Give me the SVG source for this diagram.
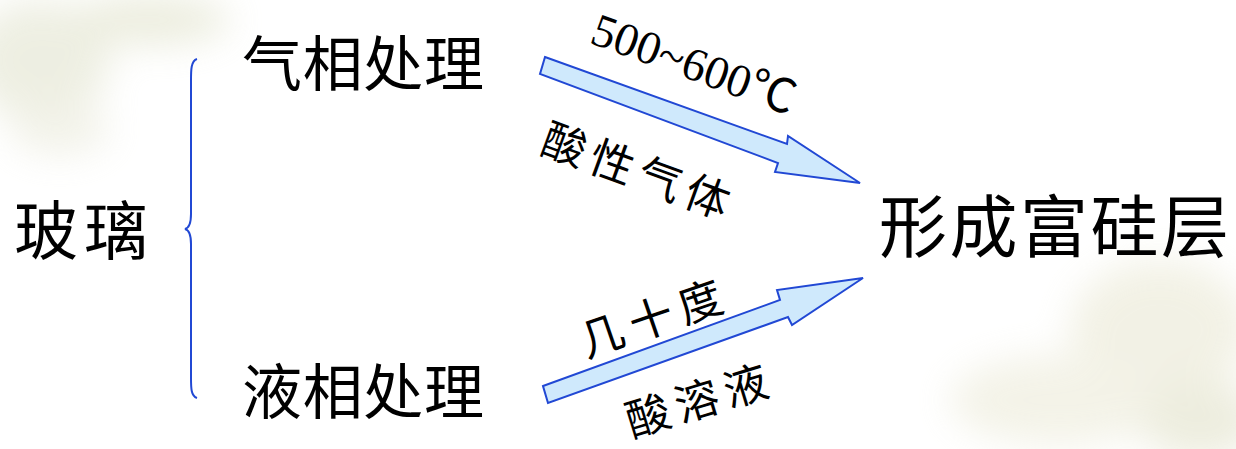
<svg xmlns="http://www.w3.org/2000/svg" width="1236" height="449" viewBox="0 0 1236 449">
<style>
.cjk{font-family:"Noto Sans CJK SC",sans-serif;fill:#000}
.lbl{font-family:"Noto Sans CJK SC",sans-serif;fill:#000;font-size:44px}
.num{font-family:"Liberation Serif","Noto Sans CJK SC",serif;fill:#000;font-size:47px}
.arrow{fill:#cfe9fc;stroke:#2148d4;stroke-width:2;stroke-linejoin:miter}
.brace{fill:none;stroke:#2148d4;stroke-width:2}
</style>
<defs>
<filter id="blur" x="-50%" y="-50%" width="200%" height="200%"><feGaussianBlur stdDeviation="18"/></filter>
</defs>
<rect width="1236" height="449" fill="#ffffff"/>
<g id="background" filter="url(#blur)" opacity="0.45">
<ellipse cx="40" cy="60" rx="70" ry="60" fill="#d9dbc0"/>
<ellipse cx="150" cy="20" rx="80" ry="25" fill="#d6d8b8"/>
<ellipse cx="60" cy="130" rx="50" ry="25" fill="#e4e4d0"/>
<ellipse cx="1160" cy="330" rx="90" ry="70" fill="#e3e1c6"/>
<ellipse cx="1060" cy="400" rx="110" ry="45" fill="#e6e4cc"/>
<ellipse cx="1200" cy="420" rx="60" ry="40" fill="#d8d8b8"/>
</g>
<g id="connectors">
<path class="brace" d="M197,59 C191,61 191,70 191,80 L191,214 C191,224 189,228 185,229 C189,230 191,234 191,244 L191,378 C191,388 191,396 197,398"/>
<polygon class="arrow" points="545,57 787,144 788,136 860,183 775,172 778,163 540,74"/>
<polygon class="arrow" points="543,386 780,300 777,290 863,278 792,325 788,317 548,403"/>
</g>
<g id="node-glass"><text class="cjk" x="14" y="254" font-size="64" letter-spacing="6">玻璃</text></g>
<g id="node-gas"><text class="cjk" x="242" y="86" font-size="60" textLength="242">气相处理</text></g>
<g id="node-liquid"><text class="cjk" x="242" y="414" font-size="60" textLength="242">液相处理</text></g>
<g id="node-result"><text class="cjk" x="879" y="252" font-size="68" textLength="350">形成富硅层</text></g>
<g id="labels">
<text class="num" transform="translate(694,64) rotate(20)" text-anchor="middle" dominant-baseline="central">500~600℃</text>
<text class="lbl" transform="translate(637,168) rotate(20)" text-anchor="middle" dominant-baseline="central" textLength="196">酸性气体</text>
<text class="lbl" transform="translate(650,316) rotate(-19)" text-anchor="middle" dominant-baseline="central" textLength="148">几十度</text>
<text class="lbl" transform="translate(696,398) rotate(-17)" text-anchor="middle" dominant-baseline="central" textLength="146">酸溶液</text>
</g>
</svg>
